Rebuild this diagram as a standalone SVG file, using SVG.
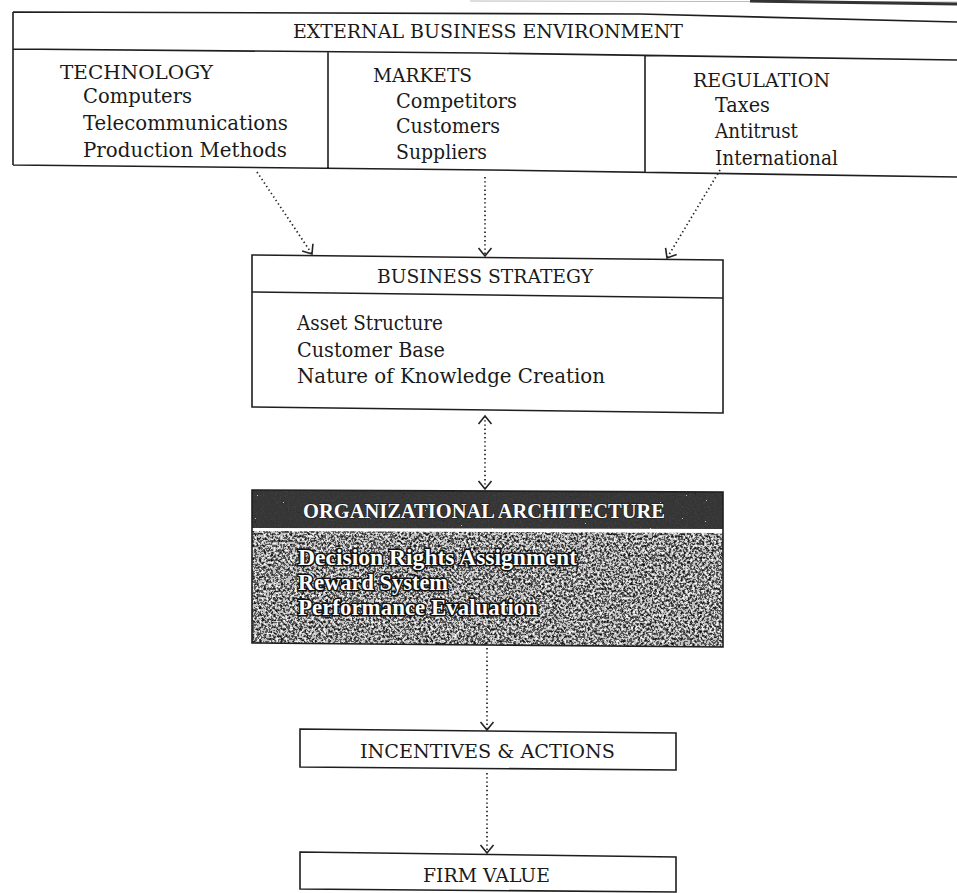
<svg xmlns="http://www.w3.org/2000/svg" width="957" height="893" viewBox="0 0 957 893">
<defs>
<style>
.t{font-family:"DejaVu Serif","Liberation Serif",serif;fill:#1a1a1a}
.cap{font-size:19px}
.it{font-size:20px}
.ln{fill:none;stroke:#1e1e1e;stroke-width:1.6}
.box{fill:#fff;stroke:#1e1e1e;stroke-width:1.6}
.conn{fill:none;stroke:#222;stroke-width:1.7;stroke-dasharray:1.4 2.8}
.oah{font-family:"Liberation Serif","DejaVu Serif",serif;font-weight:bold;font-size:20px;fill:#fff;stroke:#222;stroke-width:1.5;paint-order:stroke}
.oai{font-family:"Liberation Serif","DejaVu Serif",serif;font-weight:bold;font-size:23px;fill:#fff;stroke:#111;stroke-width:3;paint-order:stroke}
</style>
<marker id="ah" viewBox="-11 -8 13 16" markerWidth="13" markerHeight="16" refX="0" refY="0" orient="auto-start-reverse" markerUnits="userSpaceOnUse">
<path d="M-8,-6.5 L0,0 L-8,6.5" fill="none" stroke="#222" stroke-width="1.6"/>
</marker>
<filter id="grain" x="0" y="0" width="100%" height="100%" color-interpolation-filters="sRGB">
<feTurbulence type="fractalNoise" baseFrequency="0.42" numOctaves="2" seed="7" result="n"/>
<feColorMatrix in="n" type="matrix" values="1 0 0 0 0  1 0 0 0 0  1 0 0 0 0  0 0 0 0 1" result="g"/>
<feComponentTransfer in="g" result="q">
<feFuncR type="discrete" tableValues="0.02 0.12 0.35 0.75 0.95 1"/>
<feFuncG type="discrete" tableValues="0.02 0.12 0.35 0.75 0.95 1"/>
<feFuncB type="discrete" tableValues="0.02 0.12 0.35 0.75 0.95 1"/>
</feComponentTransfer>
<feComposite in="q" in2="SourceAlpha" operator="in"/>
</filter>
<filter id="grainDark" x="0" y="0" width="100%" height="100%" color-interpolation-filters="sRGB">
<feTurbulence type="fractalNoise" baseFrequency="0.6" numOctaves="2" seed="3" result="n"/>
<feColorMatrix in="n" type="matrix" values="1 0 0 0 0  1 0 0 0 0  1 0 0 0 0  0 0 0 0 1" result="g"/>
<feComponentTransfer in="g" result="q">
<feFuncR type="discrete" tableValues="0.12 0.2 0.21 0.22 0.25 0.75"/>
<feFuncG type="discrete" tableValues="0.12 0.2 0.21 0.22 0.25 0.75"/>
<feFuncB type="discrete" tableValues="0.12 0.2 0.21 0.22 0.25 0.75"/>
</feComponentTransfer>
<feComposite in="q" in2="SourceAlpha" operator="in"/>
</filter>
</defs>
<rect x="0" y="0" width="957" height="893" fill="#fff"/>
<path d="M470,1 L957,2" stroke="#bbb" stroke-width="1" fill="none"/>
<path d="M750,1 L957,4" stroke="#333" stroke-width="3" fill="none"/>

<g id="external-environment">
<path class="ln" d="M13,12 L640,14 L957,22 M13,49 L480,53 L957,60 M13,165 L490,170 L957,177 M13,12 L13,165 M328,52 L328,168 M645,56 L645,172"/>
<text class="t cap" x="293" y="38" textLength="390" lengthAdjust="spacingAndGlyphs">EXTERNAL BUSINESS ENVIRONMENT</text>
<text class="t cap" x="60" y="79" textLength="153" lengthAdjust="spacingAndGlyphs">TECHNOLOGY</text>
<text class="t it" x="83" y="103" textLength="109" lengthAdjust="spacingAndGlyphs">Computers</text>
<text class="t it" x="83" y="130" textLength="205" lengthAdjust="spacingAndGlyphs">Telecommunications</text>
<text class="t it" x="83" y="157" textLength="204" lengthAdjust="spacingAndGlyphs">Production Methods</text>
<text class="t cap" x="373" y="82" textLength="99" lengthAdjust="spacingAndGlyphs">MARKETS</text>
<text class="t it" x="396" y="108" textLength="121" lengthAdjust="spacingAndGlyphs">Competitors</text>
<text class="t it" x="396" y="133" textLength="104" lengthAdjust="spacingAndGlyphs">Customers</text>
<text class="t it" x="396" y="159" textLength="91" lengthAdjust="spacingAndGlyphs">Suppliers</text>
<text class="t cap" x="693" y="87" textLength="137" lengthAdjust="spacingAndGlyphs">REGULATION</text>
<text class="t it" x="715" y="112" textLength="55" lengthAdjust="spacingAndGlyphs">Taxes</text>
<text class="t it" x="715" y="138" textLength="83" lengthAdjust="spacingAndGlyphs">Antitrust</text>
<text class="t it" x="715" y="165" textLength="123" lengthAdjust="spacingAndGlyphs">International</text>
</g>

<g id="business-strategy">
<path class="box" d="M252,255 L723,260 L723,413 L252,407 Z"/>
<path class="ln" d="M252,292 L723,298"/>
<text class="t cap" x="377" y="283" textLength="216" lengthAdjust="spacingAndGlyphs">BUSINESS STRATEGY</text>
<text class="t it" x="297" y="330" textLength="146" lengthAdjust="spacingAndGlyphs">Asset Structure</text>
<text class="t it" x="297" y="357" textLength="148" lengthAdjust="spacingAndGlyphs">Customer Base</text>
<text class="t it" x="297" y="383" textLength="308" lengthAdjust="spacingAndGlyphs">Nature of Knowledge Creation</text>
</g>

<g id="organizational-architecture">
<path d="M252,490 L723,492 L723,529 L252,528 Z" fill="#333" filter="url(#grainDark)"/>
<path d="M252,531 L723,533 L723,647 L252,643 Z" fill="#888" filter="url(#grain)"/>
<path class="ln" d="M252,490 L723,492 L723,647 L252,643 Z"/>
<text class="oah" x="303" y="518" textLength="362" lengthAdjust="spacingAndGlyphs">ORGANIZATIONAL ARCHITECTURE</text>
<text class="oai" x="298" y="565" textLength="279" lengthAdjust="spacingAndGlyphs">Decision Rights Assignment</text>
<text class="oai" x="298" y="590" textLength="150" lengthAdjust="spacingAndGlyphs">Reward System</text>
<text class="oai" x="298" y="615" textLength="240" lengthAdjust="spacingAndGlyphs">Performance Evaluation</text>
</g>

<g id="incentives-actions">
<path class="box" d="M300,729 L676,733 L676,770 L300,767 Z"/>
<text class="t cap" x="360" y="758" textLength="255" lengthAdjust="spacingAndGlyphs">INCENTIVES &amp; ACTIONS</text>
</g>

<g id="firm-value">
<path class="box" d="M300,852 L676,857 L676,892 L300,889 Z"/>
<text class="t cap" x="423" y="882" textLength="127" lengthAdjust="spacingAndGlyphs">FIRM VALUE</text>
</g>

<g id="connectors">
<path class="conn" d="M257,172 L312,254" marker-end="url(#ah)"/>
<path class="conn" d="M485,177 L485,256" marker-end="url(#ah)"/>
<path class="conn" d="M720,170 L667,258" marker-end="url(#ah)"/>
<path class="conn" d="M485,416 L485,489" marker-start="url(#ah)" marker-end="url(#ah)"/>
<path class="conn" d="M487,648 L487,730" marker-end="url(#ah)"/>
<path class="conn" d="M487,773 L487,853" marker-end="url(#ah)"/>
</g>
</svg>
